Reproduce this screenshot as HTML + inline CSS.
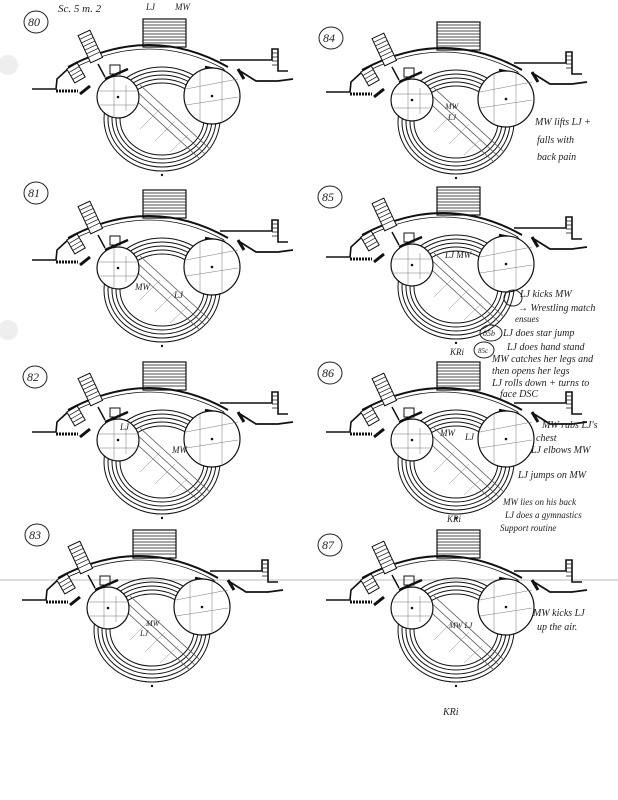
<!DOCTYPE html>
<html><head><style>
html,body{margin:0;padding:0;background:#fff;}
svg{display:block;}
.h{font-family:"Liberation Serif",serif;font-style:italic;fill:#222;}
</style></head><body>
<svg width="618" height="800" viewBox="0 0 618 800" xmlns="http://www.w3.org/2000/svg">
<defs>
<g id="p" fill="none" stroke="#111">
  <!-- top stairs -->
  <rect x="133" y="10" width="43" height="28" fill="#fff" stroke-width="1.2"/>
  <path d="M133,13H176M133,16H176M133,19H176M133,22H176M133,25H176M133,28H176M133,31H176M133,34H176" stroke-width="0.8"/>
  <!-- arc -->
  <path d="M58,58 Q140,14 218,58" stroke-width="2"/>
  <path d="M62,60 Q140,20 214,60" stroke-width="0.8"/>
  <!-- right extension -->
  <path d="M210,51H262V40H268V62H278" stroke-width="1.6"/>
  <path d="M262,44H268M262,48H268M262,52H268M262,56H268" stroke-width="0.8"/>
  <path d="M230,62L246,72H268L283,70" stroke-width="1.8"/>
  <path d="M228,60l6,10" stroke-width="3"/>
  <!-- left -->
  <path d="M22,80H46L47,70L60,58" stroke-width="1.6"/>
  <path d="M46,82H68" stroke-width="3" stroke-dasharray="2,1"/>
  <path d="M70,85L80,77" stroke-width="3"/>
  <g transform="rotate(-30 66 64)"><rect x="60" y="56" width="12" height="16" fill="#fff" stroke-width="1"/><path d="M60,60H72M60,64H72M60,68H72" stroke-width="0.7"/></g>
  <g transform="rotate(-25 82 40)"><rect x="75" y="22" width="13" height="30" fill="#fff" stroke-width="1"/><path d="M75,26H88M75,30H88M75,34H88M75,38H88M75,42H88M75,46H88" stroke-width="0.7"/></g>
  <path d="M88,55L95,68" stroke-width="1.5"/>
  <rect x="100" y="56" width="10" height="9" stroke-width="1"/>
  <path d="M95,70L118,60" stroke-width="2.5"/>
  <path d="M195,58L215,62" stroke-width="2.5"/>
  <!-- rings -->
  <ellipse cx="152" cy="110" rx="58" ry="52" stroke-width="1"/>
  <ellipse cx="152" cy="110" rx="54" ry="48" stroke-width="1"/>
  <ellipse cx="152" cy="110" rx="50" ry="44" stroke-width="1"/>
  <ellipse cx="152" cy="110" rx="46" ry="40" stroke-width="1"/>
  <ellipse cx="152" cy="110" rx="42" ry="36" stroke-width="1"/>
  <!-- diagonal strip -->
  <path d="M118,84L190,150M130,76L200,140M124,80L195,145" stroke-width="0.8" stroke="#555"/>
  <path d="M130,120L150,100M145,132L165,112M160,143L178,126" stroke-width="0.5" stroke="#888"/>
  <!-- left disk -->
  <circle cx="108" cy="88" r="21" fill="#fff" stroke-width="1.2"/>
  <path d="M88,82H128M88,96H128M104,68V109M116,76V102" stroke-width="0.5" stroke="#777"/>
  <circle cx="108" cy="88" r="0.8" fill="#111"/>
  <!-- right disk -->
  <circle cx="202" cy="87" r="28" fill="#fff" stroke-width="1.2"/>
  <path d="M176,80L228,70M176,96L228,88M190,62V112M212,62V112" stroke-width="0.5" stroke="#777"/>
  <circle cx="202" cy="87" r="0.8" fill="#111"/>
  <circle cx="152" cy="166" r="0.7" fill="#111"/>
</g>
</defs>

<line x1="0" y1="580" x2="618" y2="580" stroke="#bbb" stroke-width="1"/>
<circle cx="8" cy="65" r="10" fill="#eee"/>
<circle cx="8" cy="330" r="10" fill="#eee"/>

<use href="#p" x="10" y="9"/>
<use href="#p" x="10" y="180"/>
<use href="#p" x="10" y="352"/>
<use href="#p" x="0" y="520"/>
<use href="#p" x="304" y="12"/>
<use href="#p" x="304" y="177"/>
<use href="#p" x="304" y="352"/>
<use href="#p" x="304" y="520"/>

<g fill="none" stroke="#222" stroke-width="1">
<ellipse cx="36" cy="22" rx="12" ry="11"/>
<ellipse cx="36" cy="193" rx="12" ry="11"/>
<ellipse cx="35" cy="377" rx="12" ry="11"/>
<ellipse cx="37" cy="535" rx="12" ry="11"/>
<ellipse cx="331" cy="38" rx="12" ry="11"/>
<ellipse cx="330" cy="197" rx="12" ry="11"/>
<ellipse cx="330" cy="373" rx="12" ry="11"/>
<ellipse cx="330" cy="545" rx="12" ry="11"/>
<ellipse cx="513" cy="298" rx="9" ry="8"/>
<ellipse cx="491" cy="333" rx="11" ry="8"/>
<ellipse cx="484" cy="350" rx="10" ry="8"/>
</g>
<g class="h" font-size="12">
<text x="28" y="26">80</text><text x="28" y="197">81</text><text x="27" y="381">82</text><text x="29" y="539">83</text>
<text x="323" y="42">84</text><text x="322" y="201">85</text><text x="322" y="377">86</text><text x="322" y="549">87</text>
<text x="58" y="12" font-size="11">Sc. 5 m. 2</text>
<text x="146" y="10" font-size="9">LJ</text><text x="175" y="10" font-size="9">MW</text>
<text x="535" y="125" font-size="10">MW lifts LJ +</text>
<text x="537" y="143" font-size="10">falls with</text>
<text x="537" y="160" font-size="10">back pain</text>
<text x="520" y="297" font-size="10">LJ kicks MW</text>
<text x="518" y="311" font-size="10">→ Wrestling match</text>
<text x="515" y="322" font-size="9">ensues</text>
<text x="483" y="336" font-size="8">85b</text><text x="503" y="336" font-size="10">LJ does star jump</text>
<text x="478" y="353" font-size="7">85c</text><text x="507" y="350" font-size="10">LJ does hand stand</text>
<text x="492" y="362" font-size="10">MW catches her legs and</text>
<text x="492" y="374" font-size="10">then opens her legs</text>
<text x="492" y="386" font-size="10">LJ rolls down + turns to</text>
<text x="500" y="397" font-size="10">face DSC</text>
<text x="542" y="428" font-size="10">MW rubs LJ's</text>
<text x="536" y="441" font-size="10">chest</text>
<text x="531" y="453" font-size="10">LJ elbows MW</text>
<text x="518" y="478" font-size="10">LJ jumps on MW</text>
<text x="503" y="505" font-size="9">MW lies on his back</text>
<text x="505" y="518" font-size="9">LJ does a gymnastics</text>
<text x="500" y="531" font-size="9">Support routine</text>
<text x="533" y="616" font-size="10">MW kicks LJ</text>
<text x="537" y="630" font-size="10">up the air.</text>
<text x="450" y="355" font-size="9">KRi</text>
<text x="447" y="522" font-size="9">KRi</text>
<text x="443" y="715" font-size="10">KRi</text>
<text x="135" y="290" font-size="9">MW</text><text x="174" y="298" font-size="9">LJ</text>
<text x="120" y="430" font-size="9">LJ</text><text x="172" y="453" font-size="9">MW</text>
<text x="445" y="109" font-size="8">MW</text><text x="448" y="120" font-size="8">LJ</text>
<text x="445" y="258" font-size="9">LJ MW</text>
<text x="440" y="436" font-size="9">MW</text><text x="465" y="440" font-size="9">LJ</text>
<text x="146" y="626" font-size="8">MW</text><text x="140" y="636" font-size="8">LJ</text>
<text x="449" y="628" font-size="8">MW LJ</text>
</g>
</svg>
</body></html>
